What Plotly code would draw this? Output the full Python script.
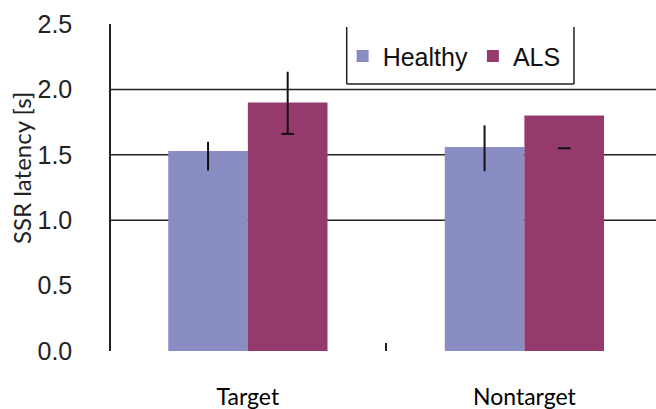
import plotly.graph_objects as go

# Mean SSR latency per stimulus condition, with error magnitudes
categories = ["Target", "Nontarget"]
healthy = [1.53, 1.56]
healthy_err_plus = [0.07, 0.165]
healthy_err_minus = [0.15, 0.185]
als = [1.90, 1.80]
als_err_plus = [0.235, 0.0]
als_err_minus = [0.24, 0.25]
als_err_line = [True, False]  # whether the whisker line is drawn
grid_levels = [1.0, 1.5, 2.0]
y_ticks = [0.0, 0.5, 1.0, 1.5, 2.0, 2.5]

HEALTHY_COLOR = "#8A8DC3"
ALS_COLOR = "#943A6C"
BAR_W = 0.288

xpos = list(range(len(categories)))

fig = go.Figure()

fig.add_trace(go.Bar(
    name="Healthy", x=xpos, y=healthy, width=BAR_W, offset=-BAR_W,
    marker=dict(color=HEALTHY_COLOR, line=dict(width=0)),
    error_y=dict(type="data", symmetric=False, array=healthy_err_plus,
                 arrayminus=healthy_err_minus, color="#111111",
                 thickness=2, width=0),
))

fig.add_trace(go.Bar(
    name="ALS", x=xpos, y=als, width=BAR_W, offset=0,
    marker=dict(color=ALS_COLOR, line=dict(width=0)),
    error_y=dict(type="data", symmetric=False,
                 array=[p if v else 0 for p, v in zip(als_err_plus, als_err_line)],
                 arrayminus=[m if v else 0 for m, v in zip(als_err_minus, als_err_line)],
                 color="#111111", thickness=2, width=0),
))

# lower caps of the ALS whiskers
fig.add_trace(go.Scatter(
    x=[x + BAR_W / 2 for x in xpos],
    y=[v - m for v, m in zip(als, als_err_minus)],
    mode="markers", showlegend=False, hoverinfo="skip",
    marker=dict(symbol="line-ew", size=9, line=dict(color="#111111", width=2)),
))

# horizontal reference lines behind the bars
for g in grid_levels:
    fig.add_shape(type="line", xref="paper", x0=0, x1=1, yref="y", y0=g, y1=g,
                  line=dict(color="#222222", width=1.5), layer="below")

# frame around the legend (open at the top)
lx0, lx1, ly0, ly1 = 0.4325, 0.8495, 0.8165, 0.991
for x0, y0, x1, y1 in [(lx0, ly1, lx0, ly0), (lx0, ly0, lx1, ly0), (lx1, ly0, lx1, ly1)]:
    fig.add_shape(type="line", xref="paper", yref="paper", x0=x0, y0=y0, x1=x1, y1=y1,
                  line=dict(color="#222222", width=1.5))

fig.add_annotation(
    text="SSR latency [s]", textangle=-90, xref="paper", yref="paper",
    x=-0.163, y=0.56, xanchor="center", yanchor="middle", showarrow=False,
    font=dict(family="Lato", size=24, color="#222222"),
)

fig.update_layout(
    width=656, height=409,
    margin=dict(l=111, r=0, t=24, b=58, autoexpand=False),
    paper_bgcolor="white", plot_bgcolor="white",
    barmode="group",
    showlegend=True,
    legend=dict(orientation="h", x=0.425, y=0.972, xanchor="left", yanchor="top",
                font=dict(family="Liberation Sans, Arial", size=25, color="#111111"),
                bgcolor="rgba(0,0,0,0)", borderwidth=0, itemclick=False,
                traceorder="normal"),
    xaxis=dict(
        range=[-0.495, 1.476], tickvals=xpos, ticktext=categories,
        showgrid=False, zeroline=False, showline=False, ticks="",
        tickfont=dict(family="Lato", size=23, color="#000000"),
        ticklabelstandoff=30,
        minor=dict(tick0=0.5, dtick=1, ticks="inside", ticklen=8,
                   tickwidth=1.5, tickcolor="#222222", showgrid=False),
    ),
    yaxis=dict(
        range=[0, 2.5], tickvals=y_ticks, ticktext=[f"{v:.1f}" for v in y_ticks],
        showgrid=False, zeroline=False, showline=True, linecolor="#222222",
        linewidth=1.5, ticks="", ticklabelstandoff=32,
        tickfont=dict(family="Liberation Sans, Arial", size=25, color="#222222"),
    ),
)

fig.write_html("out.html")
